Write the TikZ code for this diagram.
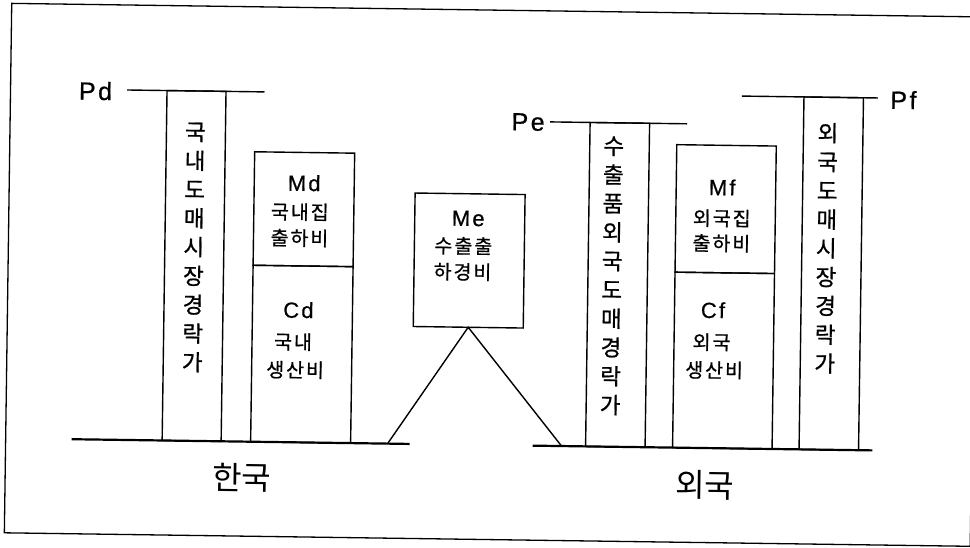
\documentclass[tikz,border=0pt]{standalone}
\usepackage{fontspec}
\setmainfont{Liberation Sans}
\newfontfamily\kfont[FakeBold=0.8]{Noto Sans CJK KR}
\newfontfamily\kplain{Noto Sans CJK KR}
\newfontfamily\kboxfont[LetterSpace=10,FakeBold=0.8]{Noto Sans CJK KR}
\newfontfamily\lboxfont[LetterSpace=10,FakeBold=0.6]{Liberation Sans}
\begin{document}
\begin{tikzpicture}[x=1pt,y=-1pt,
  box/.style={draw, line width=1.4pt, inner sep=0pt, outer sep=0pt, rectangle},
  plbl/.style={inner sep=0pt, font=\lboxfont\fontsize{25}{25}\selectfont},
  coltext/.style={inner sep=0pt, align=center, font=\kfont\fontsize{22.5}{28.8}\selectfont},
  bxk/.style={inner sep=0pt, font=\kboxfont\fontsize{19.5}{19.5}\selectfont},
  bxl/.style={inner sep=0pt, font=\lboxfont\fontsize{22}{22}\selectfont},
  bigk/.style={inner sep=0pt, font=\kplain\fontsize{32}{32}\selectfont},
  thinline/.style={line width=1.4pt},
  groundline/.style={line width=2.2pt},
  framebox/.style={line width=1.3pt}]
\useasboundingbox (0,0) rectangle (970,547);
\begin{scope}[rotate around={-0.8:(485,273)}, transform shape]
  % frame
  \node[draw, framebox, inner sep=0pt, outer sep=0pt, minimum width=966pt, minimum height=529.5pt] (frame) at (491,274.75) {};
  % ground lines
  \coordinate (gl1) at (74,445);
  \coordinate (gl2) at (412,445);
  \coordinate (gr1) at (535,445);
  \coordinate (gr2) at (875,445);
  \draw[groundline] (gl1) -- (gl2);
  \draw[groundline] (gr1) -- (gr2);
  % price lines
  \coordinate (pd1) at (124.5,95);
  \coordinate (pd2) at (262,95);
  \coordinate (pe1) at (548,121);
  \coordinate (pe2) at (685,121);
  \coordinate (pf1) at (739.5,92.5);
  \coordinate (pf2) at (875.5,92.5);
  \draw[thinline] (pd1) -- (pd2);
  \draw[thinline] (pe1) -- (pe2);
  \draw[thinline] (pf1) -- (pf2);
  \node[plbl] (pd) at (93,96.4) {Pd};
  \node[plbl] (pe) at (526,121.5) {Pe};
  \node[plbl] (pf) at (901,94.1) {Pf};
  % bars and boxes
  \node[box, minimum width=59pt, minimum height=350pt] (bard) at (194,270) {};
  \node[box, minimum width=100pt, minimum height=113.5pt] (md) at (303,211.75) {};
  \node[box, minimum width=100pt, minimum height=176.5pt] (cd) at (303,356.75) {};
  \node[box, minimum width=110pt, minimum height=133.5pt] (me) at (469,260.75) {};
  \node[box, minimum width=59.5pt, minimum height=324pt] (bare) at (617.75,283) {};
  \node[box, minimum width=99.5pt, minimum height=127.5pt] (mf) at (724.75,205.75) {};
  \node[box, minimum width=99.5pt, minimum height=175.5pt] (cf) at (724.75,357.25) {};
  \node[box, minimum width=59.5pt, minimum height=352.5pt] (barf) at (831.25,268.75) {};
  % triangle
  \coordinate (tl) at (390,445);
  \coordinate (tr) at (564,445);
  \draw[thinline] (tl) -- (me.south) -- (tr);
  % column texts
  \node[coltext] (td) at (193.5,251.6) {국\\내\\도\\매\\시\\장\\경\\락\\가};
  \node[coltext] (te) at (612,274) {수\\출\\품\\외\\국\\도\\매\\경\\락\\가};
  \node[coltext] (tf) at (826,243.5) {외\\국\\도\\매\\시\\장\\경\\락\\가};
  % box texts
  \node[bxl] (mdt) at (303,185.6) {Md};
  \node[bxk] (mdk1) at (299,214.6) {국내집};
  \node[bxk] (mdk2) at (299,240.6) {출하비};
  \node[bxl] (cdt) at (299,312.6) {Cd};
  \node[bxk] (cdk1) at (294,344.6) {국내};
  \node[bxk] (cdk2) at (296.5,372.6) {생산비};
  \node[bxl] (met) at (467.5,218.7) {Me};
  \node[bxk] (mek1) at (463,246.2) {수출출};
  \node[bxk] (mek2) at (462.5,272.2) {하경비};
  \node[bxl] (mft) at (721,184) {Mf};
  \node[bxk] (mfk1) at (721,215) {외국집};
  \node[bxk] (mfk2) at (721,240) {출하비};
  \node[bxl] (cft) at (713.5,307) {Cf};
  \node[bxk] (cfk1) at (712.5,339) {외국};
  \node[bxk] (cfk2) at (715.5,367) {생산비};
  % country labels
  \node[bigk] (kr) at (245,481) {한국};
  \node[bigk] (fo) at (708,482) {외국};
\end{scope}
\end{tikzpicture}
\end{document}
